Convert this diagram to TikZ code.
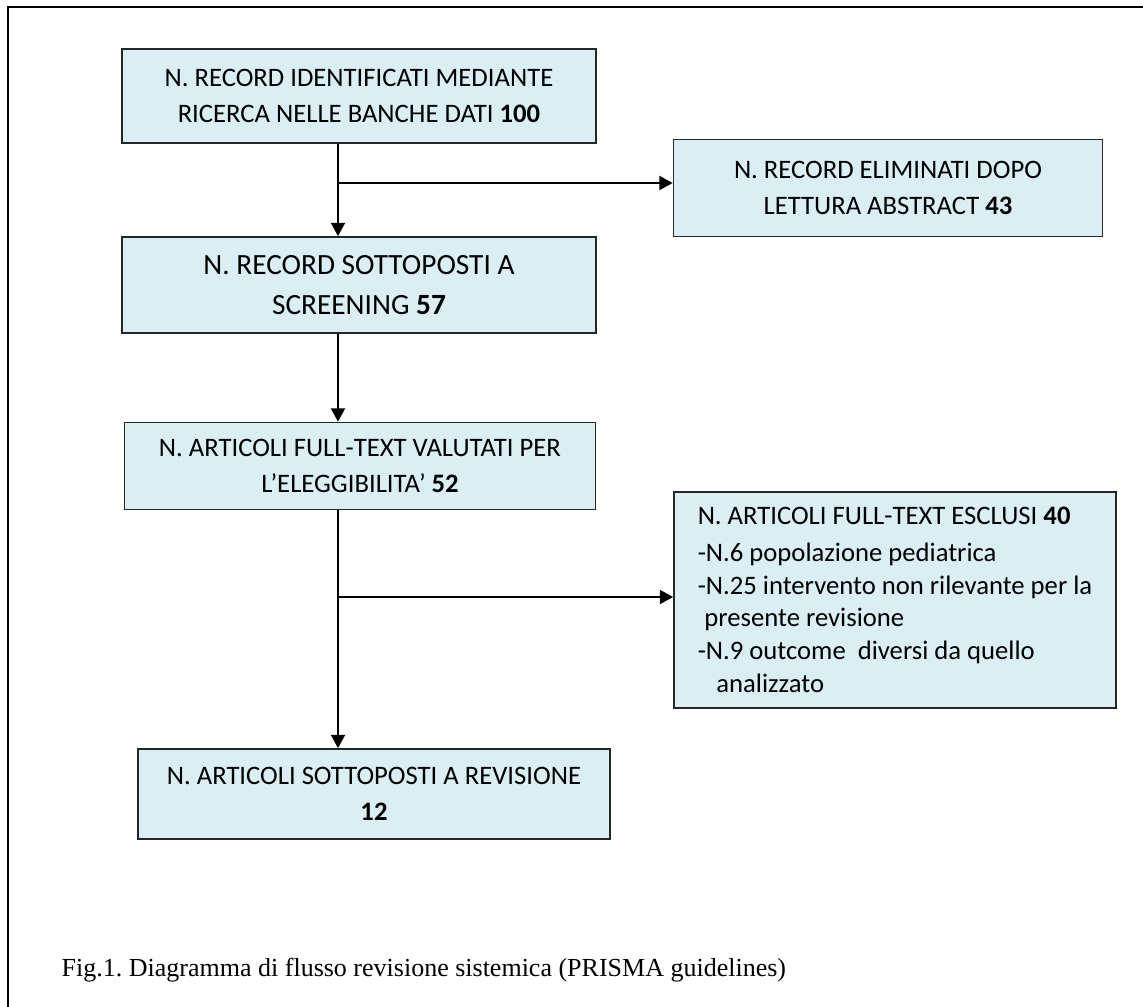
\documentclass[tikz,border=0pt]{standalone}
\usepackage{fontspec}
\setmainfont{Carlito}
\newfontfamily\figfont{Liberation Serif}
\usetikzlibrary{arrows.meta}
\definecolor{boxblue}{HTML}{DAEEF3}
\frenchspacing

\begin{document}
\begin{tikzpicture}[
    x=0.75pt, y=-0.75pt,
    >={Triangle[length=10pt,width=10.5pt]},
    every node/.style={font=\fontsize{20}{27.5}\selectfont},
    stagebox/.style={
        draw=black!85, line width=1.3pt, fill=boxblue,
        align=center, inner sep=0pt,
        minimum width=474*0.75pt, minimum height=95*0.75pt
    },
    sidebox/.style={
        draw=black!85, line width=1.3pt, fill=boxblue,
        align=center, inner sep=0pt,
        minimum width=429*0.75pt, minimum height=97*0.75pt
    },
    listbox/.style={
        draw=black!85, line width=1.3pt, fill=boxblue,
        align=left, inner sep=0pt,
        minimum width=442*0.75pt, minimum height=216*0.75pt,
        font=\fontsize{20}{24.5}\selectfont
    },
    flow/.style={->, line width=1.5pt}
]
\useasboundingbox (0,0) rectangle (1143,1007);

% cornice
\draw[line width=1.6pt] (8,1007) -- (8,7) -- (1143,7);

% colonna principale
\node[stagebox, minimum height=94*0.75pt] (ident) at (359,96)
    {N. RECORD IDENTIFICATI MEDIANTE\\RICERCA NELLE BANCHE DATI \textbf{100}};
\node[stagebox, minimum height=96*0.75pt, font=\fontsize{22}{29.5}\selectfont] (screen) at (359,285)
    {N. RECORD SOTTOPOSTI A\\SCREENING \textbf{57}};
\node[stagebox, minimum width=471*0.75pt, minimum height=87*0.75pt] (elig) at (360,466)
    {N. ARTICOLI FULL-TEXT VALUTATI PER\\L’ELEGGIBILITA’ \textbf{52}};
\node[stagebox, minimum width=472*0.75pt, minimum height=90*0.75pt] (incl) at (374,794)
    {N. ARTICOLI SOTTOPOSTI A REVISIONE\\\textbf{12}};

% esclusi
\node[sidebox] (abstr) at (888,188)
    {N. RECORD ELIMINATI DOPO\\LETTURA ABSTRACT \textbf{43}};
\node[listbox] (fulltx) at (895,600)
    {N. ARTICOLI FULL-TEXT ESCLUSI \textbf{40}\\[3pt]
     -N.6 popolazione pediatrica\\
     -N.25 intervento non rilevante per la\\
     \hspace*{5pt}presente revisione\\
     -N.9 outcome\ \ diversi da quello\\
     \hspace*{14pt}analizzato};

% frecce
\coordinate (fork1) at (338,183);
\coordinate (fork2) at (338,597);
\draw[flow] (fork1 |- ident.south) -- (fork1 |- screen.north);
\draw[flow] (fork1) -- (fork1 -| abstr.west);
\draw[flow] (fork1 |- screen.south) -- (fork1 |- elig.north);
\draw[flow] (fork2 |- elig.south) -- (fork2 |- incl.north);
\draw[flow] (fork2) -- (fork2 -| fulltx.west);

% didascalia
\node[anchor=base west, font=\figfont\fontsize{19.5}{24}\selectfont] (cap) at (57,976)
    {Fig.1. Diagramma di flusso revisione sistemica (PRISMA guidelines)};

\end{tikzpicture}
\end{document}
